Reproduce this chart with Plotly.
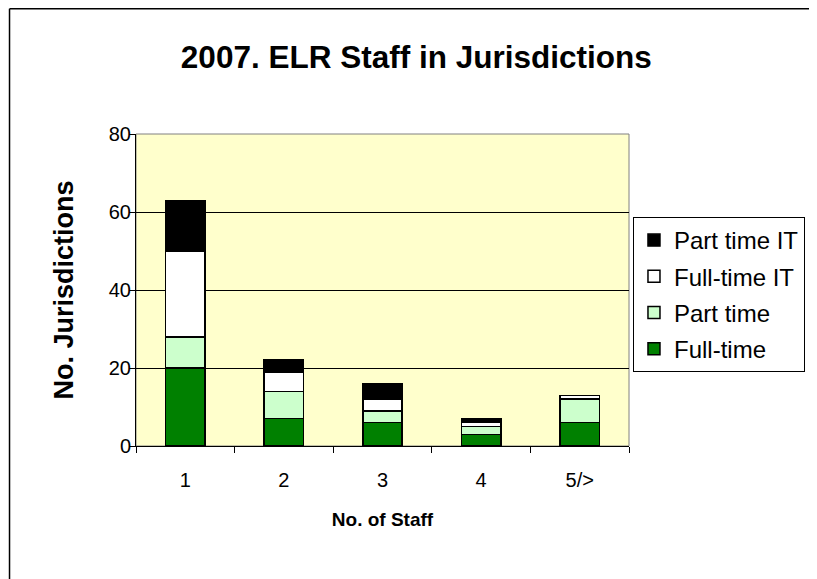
import plotly.graph_objects as go

categories = ["1", "2", "3", "4", "5/>"]
full_time = [20, 7, 6, 3, 6]
part_time = [8, 7, 3, 2, 6]
full_time_it = [22, 5, 3, 1, 1]
part_time_it = [13, 3, 4, 1, 0]
y_ticks = [0, 20, 40, 60, 80]

series = [
    ("Full-time", full_time, "#008000"),
    ("Part time", part_time, "#CCFFCC"),
    ("Full-time IT", full_time_it, "#FFFFFF"),
    ("Part time IT", part_time_it, "#000000"),
]

fig = go.Figure()
for i, (name, vals, color) in enumerate(series):
    fig.add_trace(go.Bar(
        x=categories, y=vals, name=name, legendgroup=name,
        legendrank=100 - i,
        marker=dict(color=color, line=dict(color="#000000", width=1.5)),
        width=0.4,
    ))

FW, FH = 809, 571
L, T, W, H = 128, 126, 496, 312
R, B = FW - L - W, FH - T - H

def px(x):
    return (x - L) / W

def py(y):
    return (T + H - y) / H

fig.update_layout(
    width=FW, height=FH,
    margin=dict(l=L, r=R, t=T, b=B),
    barmode="stack",
    paper_bgcolor="#FFFFFF",
    plot_bgcolor="#FFFFCC",
    font=dict(family="Liberation Sans, Arial", color="#000000", size=20),
    title=dict(text="<b>2007. ELR Staff in Jurisdictions</b>", x=px(410), xref="paper",
               xanchor="center", y=1 - 49 / FH, yanchor="middle",
               font=dict(size=31.5)),
    showlegend=True,
    legend=dict(
        x=px(628), y=py(209), xanchor="left", yanchor="top",
        traceorder="grouped", tracegroupgap=2,
        bordercolor="#000000", borderwidth=1, bgcolor="#FFFFFF",
        font=dict(size=24), itemwidth=30,
    ),
    xaxis=dict(
        type="category", tickson="boundaries", ticks="outside", ticklen=6,
        tickcolor="#000000", showline=True, linecolor="#000000", linewidth=1,
        showgrid=False, tickfont=dict(size=20), ticklabelstandoff=16,
        title=dict(text="<b>No. of Staff</b>", font=dict(size=19), standoff=22),
    ),
    yaxis=dict(
        range=[0, 80], tickvals=y_ticks, ticks="outside", ticklen=6,
        tickcolor="#000000", showline=True, linecolor="#000000", linewidth=1,
        showgrid=True, gridcolor="#000000", gridwidth=1, zeroline=False,
        tickfont=dict(size=20), ticklabelstandoff=-6,
        title=dict(text="<b>No. Jurisdictions</b>", font=dict(size=27), standoff=27),
    ),
    shapes=[
        dict(type="rect", xref="paper", yref="paper", x0=0, x1=1, y0=0, y1=1,
             line=dict(color="#808080", width=1), fillcolor="rgba(0,0,0,0)", layer="below"),
        dict(type="line", xref="paper", yref="paper", x0=px(0.75), x1=px(0.75),
             y0=py(FH + 2), y1=py(0.75), line=dict(color="#000000", width=1.5)),
        dict(type="line", xref="paper", yref="paper", x0=px(0.75), x1=px(FW + 2),
             y0=py(0.75), y1=py(0.75), line=dict(color="#000000", width=1.5)),
    ],
)

fig.write_html("out.html")
